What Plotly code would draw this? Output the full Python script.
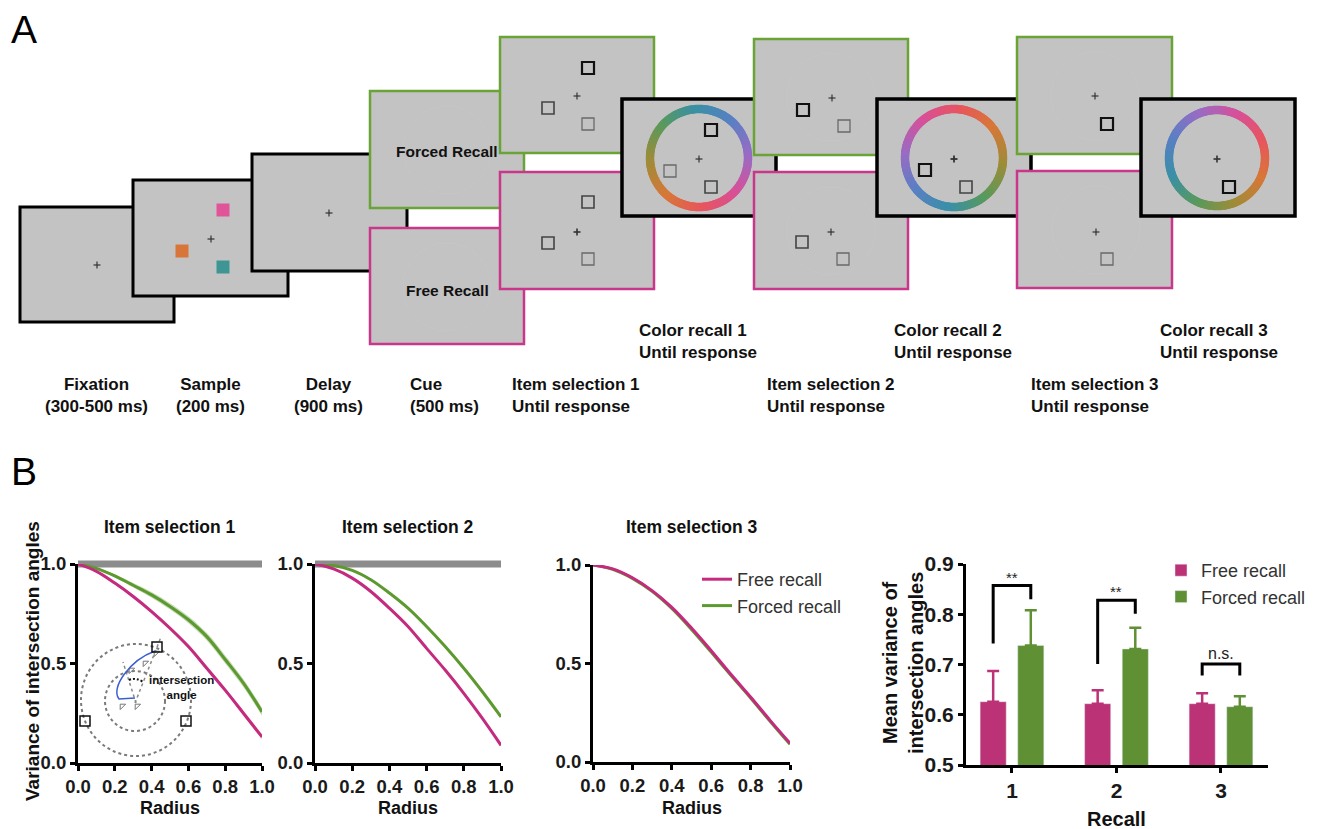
import numpy as np
import plotly.graph_objects as go

W, H = 1320, 829
OFF = 8   # page body margin of the rendered html
FONT = "Liberation Sans, Arial, sans-serif"

# ---------------- DATA (panel B) ----------------
radius = [0.0, 0.1, 0.2, 0.3, 0.4, 0.5, 0.6, 0.7, 0.8, 0.9, 1.0]

sel1_free = [1.0, 0.963, 0.904, 0.837, 0.761, 0.677, 0.585, 0.476, 0.366, 0.249, 0.131]
sel1_forced = [1.0, 0.978, 0.940, 0.893, 0.845, 0.787, 0.720, 0.635, 0.520, 0.400, 0.257]
sel1_free_sem = [0.0, 0.004, 0.006, 0.008, 0.009, 0.010, 0.010, 0.011, 0.011, 0.012, 0.012]
sel1_forced_sem = [0.0, 0.005, 0.008, 0.011, 0.014, 0.016, 0.018, 0.019, 0.020, 0.020, 0.020]

sel2_free = [1.0, 0.975, 0.929, 0.862, 0.778, 0.686, 0.576, 0.467, 0.350, 0.224, 0.089]
sel2_forced = [1.0, 0.992, 0.968, 0.921, 0.854, 0.778, 0.686, 0.585, 0.476, 0.358, 0.232]
sel2_free_sem = [0.0, 0.002, 0.003, 0.004, 0.005, 0.005, 0.006, 0.006, 0.006, 0.006, 0.006]
sel2_forced_sem = [0.0, 0.002, 0.003, 0.004, 0.005, 0.005, 0.006, 0.006, 0.006, 0.006, 0.006]

sel3_free = [1.0, 0.980, 0.935, 0.870, 0.785, 0.680, 0.565, 0.445, 0.330, 0.210, 0.095]
sel3_forced = [1.0, 0.978, 0.932, 0.866, 0.779, 0.673, 0.558, 0.440, 0.325, 0.206, 0.090]
sel3_free_sem = [0.0, 0.002, 0.002, 0.003, 0.003, 0.003, 0.003, 0.003, 0.003, 0.003, 0.003]
sel3_forced_sem = [0.0, 0.002, 0.002, 0.003, 0.003, 0.003, 0.003, 0.003, 0.003, 0.003, 0.003]

chance_level = 1.0          # grey reference band (selections 1 and 2)

recall = [1, 2, 3]
free_mean = [0.626, 0.622, 0.622]
free_err = [0.061, 0.027, 0.021]
forced_mean = [0.738, 0.731, 0.616]
forced_err = [0.070, 0.042, 0.021]

sig_labels = ["**", "**", "n.s."]
sig_top = [0.857, 0.828, 0.701]
sig_left = [0.742, 0.701, 0.678]
sig_right = [0.830, 0.801, 0.678]
sig_text_y = [0.873, 0.845, 0.721]

# ---------------- STYLE ----------------
PINK = "#c42a7e"
GREEN = "#5c9a2f"
BAR_PINK = "#bb3277"
BAR_GREEN = "#5f9034"
PINK_BAND = "rgba(196,42,126,0.30)"
GREEN_BAND = "rgba(92,154,47,0.35)"
BORDER_PINK = "#c8378a"
BORDER_GREEN = "#6aa336"
SCREEN = "#c3c3c3"


def fx(px):
    return (px - OFF) / W


def fy(py):
    return 1 - (py - OFF) / H


fig = go.Figure()
shapes = []

# ---------------- line subplots ----------------
line_panels = [
    ("x", "y", sel1_free, sel1_free_sem, sel1_forced, sel1_forced_sem, True),
    ("x2", "y2", sel2_free, sel2_free_sem, sel2_forced, sel2_forced_sem, True),
    ("x3", "y3", sel3_free, sel3_free_sem, sel3_forced, sel3_forced_sem, False),
]

for xa, ya, fr, fr_s, fo, fo_s, chance in line_panels:
    if chance:
        # chance-level band: x in data units, y in axis-domain units (range is [0, 1])
        shapes.append(dict(type="line", xref=xa, yref=ya + " domain", x0=0, x1=1.01,
                           y0=chance_level, y1=chance_level,
                           line=dict(color="#8c8c8c", width=7), layer="below"))
    for vals, sem, col, band, name in [(fo, fo_s, GREEN, GREEN_BAND, "Forced recall"),
                                       (fr, fr_s, PINK, PINK_BAND, "Free recall")]:
        lo = [v - s for v, s in zip(vals, sem)]
        hi = [v + s for v, s in zip(vals, sem)]
        fig.add_trace(go.Scatter(x=radius, y=lo, mode="lines", line=dict(width=0, shape="spline"),
                                 showlegend=False, hoverinfo="skip", xaxis=xa, yaxis=ya))
        fig.add_trace(go.Scatter(x=radius, y=hi, mode="lines", line=dict(width=0, shape="spline"),
                                 fill="tonexty", fillcolor=band, showlegend=False,
                                 hoverinfo="skip", xaxis=xa, yaxis=ya))
        fig.add_trace(go.Scatter(x=radius, y=vals, mode="lines", name=name,
                                 line=dict(color=col, width=3, shape="spline"),
                                 showlegend=(xa == "x3"), legend="legend",
                                 xaxis=xa, yaxis=ya))

# ---------------- bar subplot ----------------
fig.add_trace(go.Bar(x=recall, y=free_mean, name="Free recall", marker_color=BAR_PINK,
                     width=0.25, offset=-0.305,
                     error_y=dict(type="data", symmetric=False, array=free_err,
                                  arrayminus=[0] * 3, color=BAR_PINK, thickness=2.5, width=6),
                     legend="legend2", xaxis="x4", yaxis="y4"))
fig.add_trace(go.Bar(x=recall, y=forced_mean, name="Forced recall", marker_color=BAR_GREEN,
                     width=0.25, offset=0.055,
                     error_y=dict(type="data", symmetric=False, array=forced_err,
                                  arrayminus=[0] * 3, color=BAR_GREEN, thickness=2.5, width=6),
                     legend="legend2", xaxis="x4", yaxis="y4"))

for c, t, l, r, lab, ty in zip(recall, sig_top, sig_left, sig_right, sig_labels, sig_text_y):
    fig.add_trace(go.Scatter(x=[c - 0.18, c - 0.18, c + 0.18, c + 0.18], y=[l, t, t, r],
                             mode="lines", line=dict(color="black", width=3),
                             showlegend=False, hoverinfo="skip", xaxis="x4", yaxis="y4",
                             cliponaxis=False))
    fig.add_annotation(x=c, y=ty, xref="x4", yref="y4", text=lab, showarrow=False,
                       font=dict(family=FONT, size=15 if lab == "**" else 16, color="#222"),
                       yanchor="middle")


# ---------------- panel A schematic (pixel overlay) ----------------
def rect(x0, y0, x1, y1, fill, lc, lw):
    shapes.append(dict(type="rect", xref="x5", yref="y5", x0=x0, y0=y0, x1=x1, y1=y1,
                       fillcolor=fill, line=dict(color=lc, width=lw), layer="below"))


def cross(cx, cy, s=3.5, lw=1.2, col="#333"):
    shapes.append(dict(type="line", xref="x5", yref="y5", x0=cx - s, x1=cx + s, y0=cy, y1=cy,
                       line=dict(color=col, width=lw), layer="below"))
    shapes.append(dict(type="line", xref="x5", yref="y5", x0=cx, x1=cx, y0=cy - s, y1=cy + s,
                       line=dict(color=col, width=lw), layer="below"))


def box(cx, cy, kind, s=6):
    style = {"bold": ("#111", 2.2), "dark": ("#444", 1.6), "light": ("#6a6a6a", 1.3)}[kind]
    shapes.append(dict(type="rect", xref="x5", yref="y5", x0=cx - s, x1=cx + s, y0=cy - s,
                       y1=cy + s, fillcolor="rgba(0,0,0,0)",
                       line=dict(color=style[0], width=style[1]), layer="below"))


def sq(cx, cy, col, s=6.5):
    shapes.append(dict(type="rect", xref="x5", yref="y5", x0=cx - s, x1=cx + s, y0=cy - s,
                       y1=cy + s, fillcolor=col, line=dict(width=0), layer="below"))


def ghost(cx, cy, r=44):
    shapes.append(dict(type="circle", xref="x5", yref="y5", x0=cx - r, x1=cx + r, y0=cy - r,
                       y1=cy + r, line=dict(color="#c6c6c6", width=1), layer="below"))


# fixation
rect(20, 207, 174, 322, SCREEN, "black", 3)
cross(97, 265)
# sample
rect(133, 180, 288, 296, SCREEN, "black", 3)
cross(211, 239)
sq(223, 210, "#e0559a")
sq(182, 251, "#d8763a")
sq(223, 267, "#3f9494")
# delay
rect(252, 154, 407, 271, SCREEN, "black", 3)
cross(329, 213)
# cue
rect(370, 91, 524, 208, SCREEN, BORDER_GREEN, 2.5)
ghost(447, 150)
rect(370, 228, 524, 344, SCREEN, BORDER_PINK, 2.5)
ghost(447, 287)
# item selection 1
rect(500, 37, 654, 153, SCREEN, BORDER_GREEN, 2.5)
cross(577, 96)
box(588, 68, "bold"); box(548, 108, "dark"); box(588, 124, "light")
rect(500, 172, 654, 289, SCREEN, BORDER_PINK, 2.5)
cross(577, 232, lw=1.6)
box(588, 202, "dark"); box(548, 243, "dark"); box(588, 259, "light")
# color recall 1
rect(622, 99, 776, 216, SCREEN, "black", 3.5)
cross(699, 159)
box(711, 130, "bold"); box(670, 171, "light"); box(711, 187, "dark")
# item selection 2
rect(754, 39, 908, 155, SCREEN, BORDER_GREEN, 2.5)
ghost(831, 97)
cross(832, 98)
box(803, 110, "bold"); box(844, 126, "light")
rect(754, 172, 908, 289, SCREEN, BORDER_PINK, 2.5)
ghost(831, 231)
cross(831, 232)
box(802, 242, "dark"); box(843, 259, "light")
# color recall 2
rect(877, 99, 1031, 216, SCREEN, "black", 3.5)
cross(954, 159, lw=1.8)
box(925, 170, "bold"); box(966, 187, "dark")
# item selection 3
rect(1017, 37, 1172, 154, SCREEN, BORDER_GREEN, 2.5)
ghost(1095, 96)
cross(1095, 96)
box(1107, 124, "bold")
rect(1017, 171, 1172, 288, SCREEN, BORDER_PINK, 2.5)
ghost(1096, 230)
cross(1096, 232)
box(1107, 259, "light")
# color recall 3
rect(1141, 99, 1295, 216, SCREEN, "black", 3.5)
cross(1217, 159, lw=1.6)
box(1229, 187, "bold")

# colour wheels (decorative rings)
CYCLE = ["#3a90a8", "#5a80c4", "#9a6cc4", "#d8509a", "#e8565e", "#d87838", "#a08c38", "#5a9a5c"]


def hex2rgb(h):
    return np.array([int(h[i:i + 2], 16) for i in (1, 3, 5)], dtype=float)


CYC = [hex2rgb(c) for c in CYCLE]


def wheel(cx, cy, r, offset):
    ang = np.linspace(0, 360, 200, endpoint=False)
    xs = cx + r * np.sin(np.radians(ang))
    ys = cy - r * np.cos(np.radians(ang))
    cols = []
    for a in ang:
        t = (offset + a / 45.0) % 8
        i = int(np.floor(t))
        f = t - i
        c = CYC[i] * (1 - f) + CYC[(i + 1) % 8] * f
        cols.append("rgb(%d,%d,%d)" % tuple(c))
    fig.add_trace(go.Scatter(x=xs, y=ys, mode="markers",
                             marker=dict(size=8.5, color=cols, line=dict(width=0)),
                             showlegend=False, hoverinfo="skip", xaxis="x5", yaxis="y5"))


wheel(699, 158, 49, 0.0)
wheel(954, 158, 49, 3.8)
wheel(1217, 158, 48, 2.4)

# inset in item-selection-1 plot
DASH = "3px,3px"
shapes.append(dict(type="circle", xref="x5", yref="y5", x0=136 - 55, x1=136 + 55,
                   y0=700 - 56, y1=700 + 56, line=dict(color="#7a7a7a", width=2, dash=DASH)))
shapes.append(dict(type="circle", xref="x5", yref="y5", x0=135 - 30, x1=135 + 30,
                   y0=701 - 30, y1=701 + 30, line=dict(color="#7a7a7a", width=2, dash=DASH)))
shapes.append(dict(type="line", xref="x5", yref="y5", x0=135, y0=703, x1=161, y1=637,
                   line=dict(color="#8a8a8a", width=1.5, dash=DASH)))
shapes.append(dict(type="line", xref="x5", yref="y5", x0=136, y0=703, x1=123, y1=662,
                   line=dict(color="#8a8a8a", width=1.5, dash=DASH)))
shapes.append(dict(type="path", xref="x5", yref="y5",
                   path="M 155 651 C 130 660, 110 688, 119 699 L 135 698",
                   line=dict(color="#3a5fd0", width=1.5)))
shapes.append(dict(type="path", xref="x5", yref="y5",
                   path="M 129 680 Q 136 677, 143 682",
                   line=dict(color="#111", width=2, dash="2px,2px")))
for (bx, by) in [(85, 721), (186, 721), (157, 647)]:
    shapes.append(dict(type="rect", xref="x5", yref="y5", x0=bx - 5, x1=bx + 5, y0=by - 5,
                       y1=by + 5, line=dict(color="#111", width=1.5), fillcolor="rgba(0,0,0,0)"))
fig.add_trace(go.Scatter(x=[122, 137, 131, 145, 156], y=[706, 706, 670, 663, 653],
                         mode="markers", marker=dict(symbol="triangle-nw", size=6, color="white",
                                                     line=dict(color="#777", width=1)),
                         showlegend=False, hoverinfo="skip", xaxis="x5", yaxis="y5"))

fig.update_layout(shapes=shapes)


# ---------------- text ----------------
def ann(x, y, text, size=17, bold=True, xanchor="center", align="center", color="#111",
        yanchor="middle", textangle=0):
    fig.add_annotation(x=x, y=y, xref="x5", yref="y5", text=("<b>%s</b>" % text) if bold else text,
                       showarrow=False, xanchor=xanchor, yanchor=yanchor, align=align,
                       textangle=textangle, font=dict(family=FONT, size=size, color=color))


ann(9, 29, "A", size=39, bold=False, xanchor="left", color="black")
ann(9, 471, "B", size=39, bold=False, xanchor="left", color="black")
ann(447, 151, "Forced Recall", size=15.5)
ann(447, 290, "Free Recall", size=15.5)

ann(96, 395, "Fixation<br>(300-500 ms)")
ann(210, 395, "Sample<br>(200 ms)")
ann(328, 395, "Delay<br>(900 ms)")
ann(408, 395, "Cue<br>(500 ms)", xanchor="left", align="left")
ann(510, 395, "Item selection 1<br>Until response", xanchor="left", align="left")
ann(765, 395, "Item selection 2<br>Until response", xanchor="left", align="left")
ann(1029, 395, "Item selection 3<br>Until response", xanchor="left", align="left")
ann(637, 341, "Color recall 1<br>Until response", xanchor="left", align="left")
ann(892, 341, "Color recall 2<br>Until response", xanchor="left", align="left")
ann(1158, 341, "Color recall 3<br>Until response", xanchor="left", align="left")

ann(170, 527, "Item selection 1", size=17.5)
ann(408, 527, "Item selection 2", size=17.5)
ann(692, 527, "Item selection 3", size=17.5)
ann(170, 808, "Radius", size=18)
ann(408, 808, "Radius", size=18)
ann(692, 808, "Radius", size=18)
ann(32, 661, "Variance of intersection angles", size=19, textangle=-90)
ann(1116, 819, "Recall", size=20)
ann(903, 663, "Mean variance of<br>intersection angles", size=20, textangle=-90)
ann(181, 687, "intersection<br>angle", size=11.5)

# ---------------- axes ----------------
tickfont_line = dict(family=FONT, size=18.5, color="#1a1a1a", weight="bold")


def line_axes(x0, x1, y0, y1, xa, ya):
    common = dict(showline=True, linewidth=3, linecolor="black", ticks="outside", ticklen=5,
                  tickwidth=2.5, tickcolor="black", showgrid=False, zeroline=False,
                  tickfont=tickfont_line, fixedrange=True, tickformat=".1f")
    fig.layout[xa] = dict(domain=[fx(x0), fx(x1)], range=[0, 1],
                          tickvals=[0, 0.2, 0.4, 0.6, 0.8, 1.0], anchor=ya.replace("yaxis", "y"),
                          **common)
    fig.layout[ya] = dict(domain=[fy(y1), fy(y0)], range=[0, 1], tickvals=[0, 0.5, 1.0],
                          anchor=xa.replace("xaxis", "x"), **common)


line_axes(78, 262, 564, 763, "xaxis", "yaxis")
line_axes(315, 501, 564, 763, "xaxis2", "yaxis2")
line_axes(593, 790, 565, 762, "xaxis3", "yaxis3")

bar_common = dict(showline=True, linewidth=3, linecolor="black", ticks="outside", ticklen=5,
                  tickwidth=2.5, tickcolor="black", showgrid=False, zeroline=False,
                  tickfont=dict(family=FONT, size=21, color="#1a1a1a", weight="bold"),
                  fixedrange=True)
fig.layout["xaxis4"] = dict(domain=[fx(966), fx(1268)], range=[0.56, 3.45], tickvals=recall,
                            anchor="y4", **bar_common)
fig.layout["yaxis4"] = dict(domain=[fy(765), fy(564)], range=[0.5, 0.9],
                            tickvals=[0.5, 0.6, 0.7, 0.8, 0.9], tickformat=".1f",
                            anchor="x4", **bar_common)

fig.layout["xaxis5"] = dict(domain=[0, 1], range=[OFF, W + OFF], visible=False,
                            fixedrange=True, anchor="y5")
fig.layout["yaxis5"] = dict(domain=[0, 1], range=[H + OFF, OFF], visible=False,
                            fixedrange=True, anchor="x5")

fig.update_layout(
    width=W, height=H, autosize=False,
    margin=dict(l=0, r=0, t=0, b=0, pad=0, autoexpand=False),
    paper_bgcolor="white", plot_bgcolor="rgba(0,0,0,0)",
    font=dict(family=FONT),
    legend=dict(x=fx(697), y=fy(561), xanchor="left", yanchor="top", traceorder="reversed",
                bgcolor="rgba(0,0,0,0)", font=dict(family=FONT, size=18, color="#333"),
                tracegroupgap=0),
    legend2=dict(x=fx(1161), y=fy(552), xanchor="left", yanchor="top",
                 bgcolor="rgba(0,0,0,0)", font=dict(family=FONT, size=18, color="#333")),
    barmode="overlay",
)

fig.write_html("out.html")
